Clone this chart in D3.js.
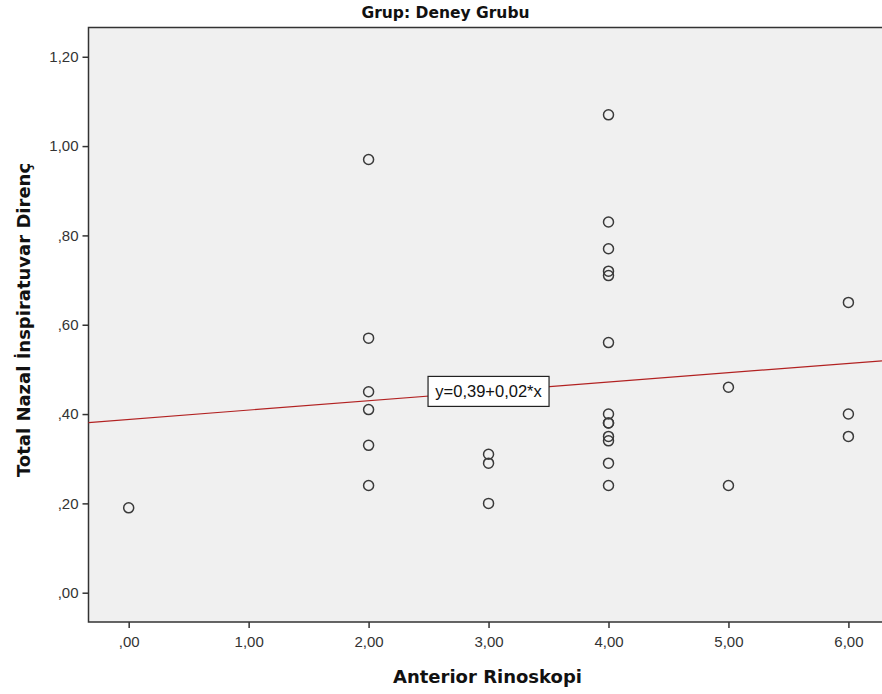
<!DOCTYPE html>
<html>
<head>
<meta charset="utf-8">
<script src="https://cdn.jsdelivr.net/npm/d3@7"></script>
<style>
  body { margin: 0; background: #fff; }
  text { font-family: "DejaVu Sans", Arial, sans-serif; }
</style>
</head>
<body>
<div id="chart"></div>
<script>
// scatter data: Anterior Rinoskopi (x) vs Total Nazal İnspiratuvar Direnç (y)
const xValues = [0, 2, 2, 2, 2, 2, 2, 3, 3, 3,
  4, 4, 4, 4, 4, 4, 4, 4, 4, 4, 4, 4, 4,
  5, 5, 6, 6, 6];
const yValues = [0.19, 0.97, 0.57, 0.45, 0.41, 0.33, 0.24, 0.31, 0.29, 0.20,
  1.07, 0.83, 0.77, 0.72, 0.71, 0.56, 0.40, 0.38, 0.38, 0.35, 0.34, 0.29, 0.24,
  0.46, 0.24, 0.65, 0.40, 0.35];
const xTicks = [0, 1, 2, 3, 4, 5, 6];
const yTicks = [0, 0.2, 0.4, 0.6, 0.8, 1.0, 1.2];
const fitIntercept = 0.388;
const fitSlope = 0.0209;
const fitLabel = "y=0,39+0,02*x";

const width = 882, height = 694;
const margin = { top: 27.5, right: 0, bottom: 72, left: 88.5 };

const svg = d3.select("#chart").append("svg")
  .attr("width", width)
  .attr("height", height);

const x = d3.scaleLinear()
  .domain([-0.335, 6.28])
  .range([margin.left, width - margin.right]);

const y = d3.scaleLinear()
  .domain([-0.0656, 1.2655])
  .range([height - margin.bottom, margin.top]);

const fmt = v => {
  const s = v.toFixed(2).replace(".", ",");
  return s.startsWith("0") ? s.slice(1) : s;
};

const tickFont = "Arial, 'Liberation Sans', sans-serif";

// plot background
svg.append("rect")
  .attr("x", x.range()[0])
  .attr("y", y.range()[1])
  .attr("width", x.range()[1] - x.range()[0] + 2)
  .attr("height", y.range()[0] - y.range()[1])
  .attr("fill", "#f0f0f0")
  .attr("stroke", "#333")
  .attr("stroke-width", 1.5);

// axes
const xAxis = svg.append("g")
  .attr("transform", `translate(0,${y.range()[0]})`)
  .call(d3.axisBottom(x).tickValues(xTicks).tickFormat(fmt).tickSize(6).tickSizeOuter(0));
xAxis.select(".domain").remove();
xAxis.selectAll("line").attr("stroke", "#333").attr("stroke-width", 1.5);
xAxis.selectAll("text")
  .attr("dy", "1.05em")
  .style("font-size", "15px")
  .style("font-family", tickFont)
  .attr("fill", "#333");

const yAxis = svg.append("g")
  .attr("transform", `translate(${x.range()[0]},0)`)
  .call(d3.axisLeft(y).tickValues(yTicks).tickFormat(fmt).tickSize(6).tickSizeOuter(0));
yAxis.select(".domain").remove();
yAxis.selectAll("line").attr("stroke", "#333").attr("stroke-width", 1.5);
yAxis.selectAll("text")
  .attr("x", -10)
  .style("font-size", "15px")
  .style("font-family", tickFont)
  .attr("fill", "#333");

// fit line
const [x0, x1] = x.domain();
svg.append("line")
  .attr("x1", x(x0))
  .attr("y1", y(fitIntercept + fitSlope * x0))
  .attr("x2", x(x1))
  .attr("y2", y(fitIntercept + fitSlope * x1))
  .attr("stroke", "#b22222")
  .attr("stroke-width", 1.2);

// points
svg.append("g")
  .selectAll("circle")
  .data(xValues.map((d, i) => [d, yValues[i]]))
  .join("circle")
  .attr("cx", d => x(d[0]))
  .attr("cy", d => y(d[1]))
  .attr("r", 5)
  .attr("fill", "none")
  .attr("stroke", "#3a3a3a")
  .attr("stroke-width", 1.5);

// fit label box, centred on the line at x = 3
const lx = x(3), ly = y(fitIntercept + fitSlope * 3);
const lbl = svg.append("g");
lbl.append("rect")
  .attr("x", lx - 60.5)
  .attr("y", ly - 15)
  .attr("width", 121)
  .attr("height", 30)
  .attr("fill", "#fff")
  .attr("stroke", "#222")
  .attr("stroke-width", 1.2);
lbl.append("text")
  .attr("x", lx)
  .attr("y", ly + 6)
  .attr("text-anchor", "middle")
  .style("font-family", tickFont)
  .style("font-size", "16.5px")
  .attr("fill", "#111")
  .text(fitLabel);

// titles
svg.append("text")
  .attr("x", 445.5)
  .attr("y", 18)
  .attr("text-anchor", "middle")
  .style("font-size", "15.5px")
  .style("font-weight", "bold")
  .attr("fill", "#111")
  .text("Grup: Deney Grubu");

svg.append("text")
  .attr("x", 487.5)
  .attr("y", 683)
  .attr("text-anchor", "middle")
  .style("font-size", "18px")
  .style("font-weight", "bold")
  .attr("fill", "#111")
  .text("Anterior Rinoskopi");

svg.append("text")
  .attr("transform", "translate(30,320) rotate(-90)")
  .attr("text-anchor", "middle")
  .style("font-size", "18px")
  .style("font-weight", "bold")
  .attr("fill", "#111")
  .text("Total Nazal İnspiratuvar Direnç");
</script>
</body>
</html>
